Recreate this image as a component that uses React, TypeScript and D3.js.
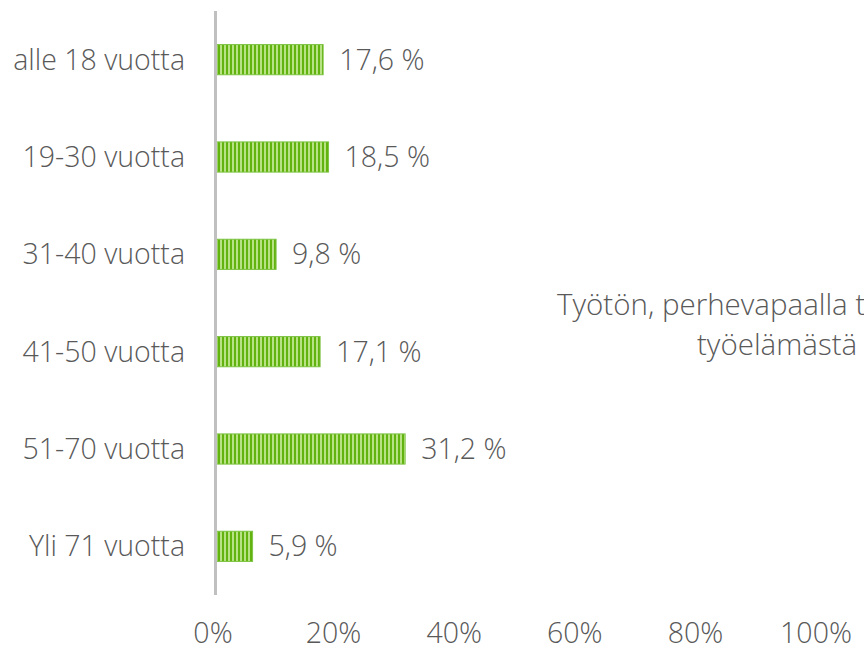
import React from "react";
import * as d3 from "d3";

const categories = ["alle 18 vuotta", "19-30 vuotta", "31-40 vuotta", "41-50 vuotta", "51-70 vuotta", "Yli 71 vuotta"];
const values = [17.6, 18.5, 9.8, 17.1, 31.2, 5.9];
const ticks = [0, 20, 40, 60, 80, 100];
const titleLines = ["Työtön, perhevapaalla tai muuten poissa", "työelämästä"];

const W = 864;
const H = 649;
const FONT = "'Open Sans', 'Noto Sans', sans-serif";
const TXT = "#595959";
const FS = 28.5;

export default function App() {
  const x = d3.scaleLinear().domain([0, 100]).range([217, 820]);
  const y = d3.scaleBand<string>().domain(categories).range([11, 595]).paddingInner(0.69).paddingOuter(0.345);
  const fmt = (v: number) => v.toFixed(1).replace(".", ",") + " %";
  return (
    <svg width={W} height={H} style={{ position: "absolute", left: 0, top: 0, background: "#fff" }}>
      <defs>
        <pattern id="stripes" width={4} height={4} patternUnits="userSpaceOnUse" x={218}>
          <rect x={0} y={0} width={4} height={4} fill="#b8e384" />
          <rect x={0} y={0} width={2} height={4} fill="#62b30f" />
        </pattern>
      </defs>
      {categories.map((c, i) => {
        const yy = y(c)!;
        const bw = y.bandwidth();
        return (
          <g key={c}>
            <rect x={x(0)} y={yy} width={x(values[i]) - x(0)} height={bw} fill="url(#stripes)" stroke="#7cc242" strokeWidth={1} />
            <text x={x(values[i]) + 16} y={yy + bw / 2 + 10} fontFamily={FONT} fontSize={FS} fontWeight={300} fill={TXT}>
              {fmt(values[i])}
            </text>
            <text x={185} y={yy + bw / 2 + 10} textAnchor="end" fontFamily={FONT} fontSize={FS} fontWeight={300} fill={TXT}>
              {c}
            </text>
          </g>
        );
      })}
      <line x1={215.5} x2={215.5} y1={11} y2={595} stroke="#c0c0c0" strokeWidth={3} />
      {ticks.map((t) => (
        <text key={t} x={x(t) - 4} y={643} textAnchor="middle" fontFamily={FONT} fontSize={FS} fontWeight={300} fill={TXT}>
          {t + "%"}
        </text>
      ))}
      <text x={557} y={315} fontFamily={FONT} fontSize={29.5} fontWeight={300} fill={TXT}>{titleLines[0]}</text>
      <text x={697} y={355} fontFamily={FONT} fontSize={29.5} fontWeight={300} fill={TXT}>{titleLines[1]}</text>
    </svg>
  );
}
